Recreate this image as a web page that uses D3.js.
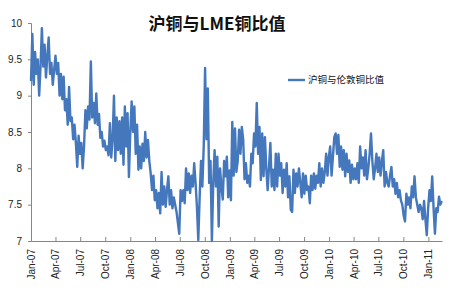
<!DOCTYPE html>
<html>
<head>
<meta charset="utf-8">
<script src="https://cdn.jsdelivr.net/npm/d3@7"></script>
<style>
  body { margin: 0; background: #fff; }
  svg { display: block; }
</style>
</head>
<body>
<svg id="chart"></svg>
<script>
// 沪铜与LME铜比值, one reading about every 5 days from 2007-01-01
const startDate = new Date(2007, 0, 1);
const stepDays = 5;
const ratio = [
  9.2, 9.85, 9.15, 9.6, 9.3, 9.5, 9.0, 9.4, 9.93, 9.4,
  9.7, 9.25, 9.55, 9.8, 9.3, 9.45, 9.15, 9.35, 9.55, 9.3,
  9.45, 9.0, 9.3, 8.95, 9.26, 8.8, 8.95, 8.6, 9.12, 8.65,
  8.7, 8.4, 8.6, 8.35, 8.02, 8.45, 8.2, 8.35, 8.0, 8.3,
  8.8, 8.55, 8.85, 8.67, 9.47, 8.7, 8.9, 8.62, 9.03, 8.6,
  8.75, 8.42, 8.5, 8.3, 8.38, 8.25, 8.3, 8.18, 8.62, 8.15,
  8.4, 9.0, 8.1, 8.7, 8.25, 8.65, 8.2, 8.7, 8.05, 8.85,
  8.3, 8.76, 7.88, 8.5, 8.92, 8.5, 8.85, 8.2, 8.6, 7.98,
  8.3, 8.0, 8.34, 8.1, 8.5, 8.15, 8.39, 8.1, 7.93, 7.7,
  7.9, 7.56, 7.7, 7.45, 7.66, 7.38, 7.95, 7.5, 7.75, 7.47,
  7.7, 7.89, 7.5, 7.7, 7.45, 7.6, 7.5, 7.4, 7.25, 7.1,
  7.7, 7.55, 7.7, 7.52, 8.0, 7.7, 7.93, 7.66, 7.9, 7.75,
  8.07, 7.8, 7.47, 7.01, 7.6, 8.1, 7.75, 8.3, 9.38, 8.4,
  9.1, 7.8, 8.1, 7.0, 7.8, 8.25, 7.75, 8.16, 7.2, 8.0,
  7.75, 7.57, 8.1, 7.89, 8.16, 7.6, 7.97, 7.56, 8.64, 7.9,
  8.55, 7.95, 8.1, 8.53, 8.2, 8.57, 8.4, 7.85, 8.07, 7.8,
  7.9, 7.75, 8.2, 8.07, 8.48, 8.3, 8.9, 8.2, 8.57, 7.84,
  8.48, 7.89, 8.43, 8.0, 7.7, 8.02, 8.35, 7.75, 7.98, 7.7,
  8.2, 7.75, 8.2, 7.9, 8.07, 7.66, 7.98, 7.75, 8.07, 7.6,
  7.89, 7.43, 7.4, 7.98, 7.66, 7.93, 7.75, 8.0, 7.8, 7.6,
  7.93, 7.65, 7.9, 7.7, 7.75, 7.52, 7.9, 7.7, 7.93, 7.72,
  7.9, 7.8, 8.07, 7.75, 8.0, 7.8, 7.95, 8.2, 7.9, 8.16,
  8.3, 7.9, 8.16, 8.43, 8.48, 8.2, 8.46, 8.02, 8.3, 7.98,
  8.25, 7.89, 8.2, 7.95, 8.11, 7.8, 8.05, 7.85, 8.0, 7.85,
  8.07, 7.8, 8.3, 8.0, 8.15, 7.9, 8.25, 7.85, 8.0, 8.2,
  8.48, 8.1, 7.85, 8.0, 8.2, 7.95, 8.15, 7.9, 8.1, 8.25,
  7.75, 7.95, 7.8, 7.75, 7.9, 8.02, 7.75, 7.85, 7.65, 7.8,
  7.6, 7.7, 7.56, 7.5, 7.35, 7.27, 7.65, 7.5, 7.6, 7.45,
  7.75, 7.6, 7.89, 7.6, 7.5, 7.4, 7.5, 7.45, 7.3, 7.55,
  7.3, 7.08, 7.45, 7.7, 7.55, 7.89, 7.45, 7.1, 7.45, 7.4,
  7.61, 7.5, 7.55
];
const yTicks = [7, 7.5, 8, 8.5, 9, 9.5, 10];
const xTicks = d3.timeMonth.range(new Date(2007, 0, 1), new Date(2011, 1, 1), 3);
const title = "沪铜与LME铜比值";
const seriesName = "沪铜与伦敦铜比值";

const data = ratio.map((v, i) => ({ date: d3.timeDay.offset(startDate, i * stepDays), value: v }));

const width = 450, height = 300;
const margin = { top: 23, right: 8, bottom: 59, left: 31 };

const svg = d3.select('#chart')
  .attr('width', width)
  .attr('height', height)
  .style('font-family', '"Liberation Sans", Arial, sans-serif');

const x = d3.scaleTime()
  .domain([new Date(2007, 0, 1), new Date(2011, 1, 20)])
  .range([margin.left, width - margin.right]);

const y = d3.scaleLinear()
  .domain([7, 10])
  .range([height - margin.bottom, margin.top]);

// y axis
const yAxis = svg.append('g')
  .attr('transform', `translate(${margin.left},0)`)
  .call(d3.axisLeft(y).tickValues(yTicks).tickSize(3).tickPadding(6)
    .tickFormat(d => d3.format('')(d)));
yAxis.select('.domain').attr('stroke', '#868686');
yAxis.selectAll('.tick line').attr('stroke', '#868686');
yAxis.selectAll('.tick text').attr('fill', '#222').style('font-size', '10px');

// x axis, ticks point up into the plot, labels rotated
const xAxis = svg.append('g')
  .attr('transform', `translate(0,${height - margin.bottom})`)
  .call(d3.axisBottom(x).tickValues(xTicks).tickSizeInner(-4).tickSizeOuter(0)
    .tickFormat(d3.timeFormat('%b-%y')));
xAxis.select('.domain').attr('stroke', '#868686');
xAxis.selectAll('.tick line').attr('stroke', '#868686');
xAxis.selectAll('.tick text')
  .attr('fill', '#222')
  .style('font-size', '10px')
  .attr('transform', 'rotate(-90)')
  .attr('text-anchor', 'end')
  .attr('x', -8)
  .attr('y', 0)
  .attr('dy', '0.35em');

// series line
const line = d3.line()
  .x(d => x(d.date))
  .y(d => y(d.value));

svg.append('path')
  .datum(data)
  .attr('fill', 'none')
  .attr('stroke', '#4477bb')
  .attr('stroke-width', 2.4)
  .attr('stroke-linejoin', 'round')
  .attr('d', line);

// title
svg.append('text')
  .attr('x', 217)
  .attr('y', 30)
  .attr('text-anchor', 'middle')
  .style('font-family', '"Noto Sans CJK SC", sans-serif')
  .style('font-size', '17px')
  .style('font-weight', 'bold')
  .attr('fill', '#111')
  .text(title);

// legend
const legend = svg.append('g').attr('transform', 'translate(288,80)');
legend.append('line')
  .attr('x1', 0).attr('x2', 17)
  .attr('stroke', '#4477bb')
  .attr('stroke-width', 2.4);
legend.append('text')
  .attr('x', 20)
  .attr('dy', '0.35em')
  .style('font-family', '"Noto Sans CJK SC", sans-serif')
  .style('font-size', '9.5px')
  .attr('fill', '#111')
  .text(seriesName);
</script>
</body>
</html>
